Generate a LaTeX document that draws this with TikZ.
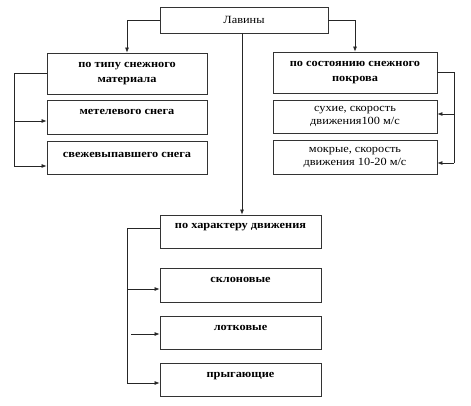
\documentclass[tikz,border=0pt]{standalone}
\usepackage{fontspec}
\setmainfont[FakeStretch=1.12]{Liberation Serif}
\usetikzlibrary{arrows.meta}
\tikzset{
  box/.style={draw=black!80, line width=0.8pt, rectangle, minimum width=160pt, align=center,
    font=\fontsize{11}{13}\selectfont, inner sep=0pt},
  bbox/.style={box, font=\fontsize{11}{15}\selectfont\bfseries},
  up/.style={text height=8pt, text depth=13pt},
  conn/.style={draw=black!85, line width=0.7pt},
  arr/.style={conn, -{Latex[length=5pt,width=4pt]}}
}
\begin{document}
\begin{tikzpicture}[x=1pt,y=-1pt]
\useasboundingbox (0,0) rectangle (471,406);
% top
\node[box, minimum width=168pt, minimum height=26pt] (top) at (244,20) {Лавины};
% left column
\node[bbox, minimum height=41pt] (L1) at (127,73.5) {по типу снежного\\материала};
\node[bbox, up, minimum height=34pt] (L2) at (127,117) {метелевого снега};
\node[bbox, text height=8pt, text depth=7pt, minimum height=33pt] (L3) at (127,157.5) {свежевыпавшего снега};
% right column
\node[bbox, minimum width=164pt, minimum height=41pt] (R1) at (355,72.5) {по состоянию снежного\\покрова};
\node[box, minimum width=164pt, minimum height=33pt] (R2) at (355,116.5) {сухие, скорость\\движения100 м/с};
\node[box, minimum width=164pt, minimum height=34pt] (R3) at (355,157) {мокрые, скорость\\движения 10-20 м/с};
% bottom column
\node[bbox, up, minimum width=161pt, minimum height=33pt] (B1) at (240.5,231.5) {по характеру движения};
\node[bbox, up, minimum width=161pt, minimum height=34pt] (B2) at (240.5,285) {склоновые};
\node[bbox, up, minimum width=161pt, minimum height=33pt] (B3) at (240.5,332.5) {лотковые};
\node[bbox, up, minimum width=161pt, minimum height=33pt] (B4) at (240.5,379.5) {прыгающие};
% connectors from top
\draw[arr] (top.west) -| (L1.north);
\draw[arr] (top.east) -| (R1.north);
\draw[arr] (top.south -| 242,0) -- (B1.north -| 242,0);
% left bracket
\coordinate (lt) at (14,73.5);
\coordinate (lm) at (14,121);
\coordinate (lb) at (14,166);
\draw[conn] (L1.west) -- (lt) -- (lb);
\draw[arr] (lb) -- (L3.west |- lb);
\draw[arr] (lm) -- (L2.west |- lm);
% right bracket
\coordinate (rt) at (454,72.5);
\coordinate (rm) at (454,114);
\coordinate (rb) at (454,163);
\draw[conn] (R1.east) -- (rt) -- (rb);
\draw[arr] (rb) -- (R3.east |- rb);
\draw[arr] (rm) -- (R2.east |- rm);
% bottom bracket
\coordinate (bt) at (127,228);
\coordinate (bm) at (127,289);
\coordinate (bb) at (127,383);
\draw[conn] (B1.west |- bt) -- (bt) -- (bb);
\draw[arr] (bb) -- (B4.west |- bb);
\draw[arr] (bm) -- (B2.west |- bm);
\coordinate (free) at (131,334);
\draw[arr] (free) -- (B3.west |- free);
\end{tikzpicture}
\end{document}
